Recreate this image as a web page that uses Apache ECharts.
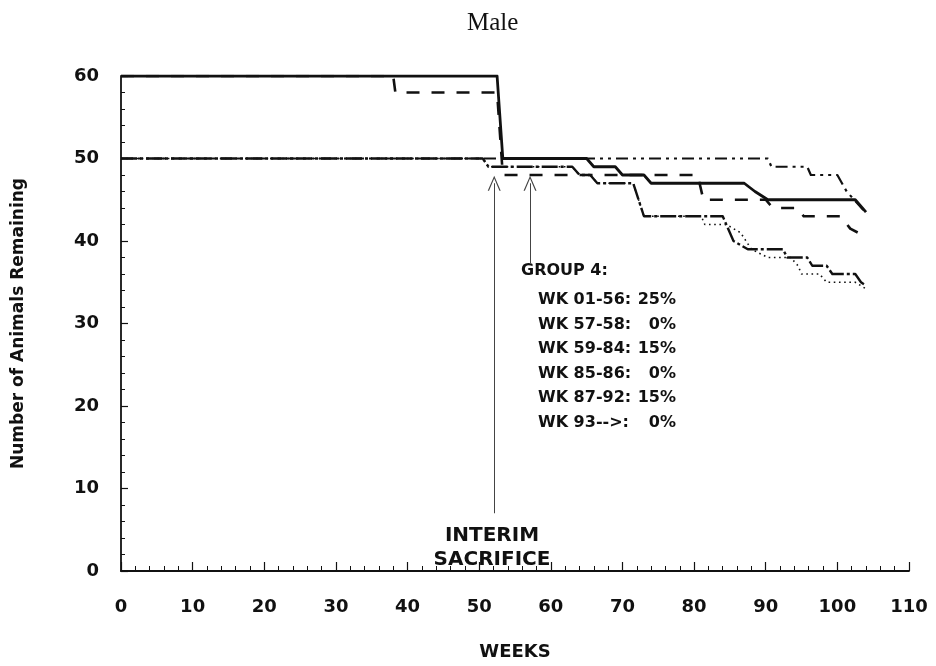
<!DOCTYPE html>
<html>
<head>
<meta charset="utf-8">
<script src="https://cdn.jsdelivr.net/npm/echarts@6/dist/echarts.min.js"></script>
<style>
html,body{margin:0;padding:0;background:#fff;}
#chart{width:936px;height:666px;}
</style>
</head>
<body>
<div id="chart"></div>
<script>
// ---- data: [week, animals remaining] ----
const groupSolid = [[0,60],[52.5,60],[53.3,50],[65,50],[66,49],[69,49],[70,48],[73,48],[74,47],[87,47],[88.5,46],[90.3,45],[102.5,45],[104,43.5]];
const groupDashed = [[0,60],[38,60],[38.3,58],[52.5,58],[53.3,48],[80.5,48],[81.3,45],[90,45],[91,44],[94.5,44],[95.3,43],[100.5,43],[101.8,41.5],[104,40.5]];
const groupDashDotDot = [[0,50],[90.3,50],[90.8,49],[95.8,49],[96.3,48],[100,48],[101.3,46],[104.1,43.3]];
const groupDashDot = [[0,50],[50.5,50],[51.3,49],[63,49],[64,48],[65.5,48],[66.5,47],[71.5,47],[73,43],[84,43],[85.5,40],[87.5,39],[92.4,39],[93,38],[95.8,38],[96.5,37],[98.5,37],[99.3,36],[102.5,36],[103.3,35],[104,34.6]];
const groupDotted = [[0,50],[50.5,50],[51.3,49],[63,49],[64,48],[65.5,48],[66.5,47],[71.5,47],[73,43],[81,43],[81.5,42],[84.5,42],[86.5,41],[88,39],[90.3,38],[93.5,38],[94.5,37],[95,36],[97.5,36],[98.5,35],[102.5,35],[104,34.2]];

const xTickValues = [0,10,20,30,40,50,60,70,80,90,100,110];
const yTickValues = [0,10,20,30,40,50,60];

const interimArrowWeek = 52.1;
const group4ArrowWeek = 57.1;

const titleText = 'Male';
const annotationTitle = 'GROUP 4:';
const scheduleLabels = ['WK 01-56:', 'WK 57-58:', 'WK 59-84:', 'WK 85-86:', 'WK 87-92:', 'WK 93-->:'];
const schedulePercents = ['25%', '0%', '15%', '0%', '15%', '0%'];
const sacrificeLines = ['INTERIM', 'SACRIFICE'];

// ---- chart ----
const chart = echarts.init(document.getElementById('chart'), null, {renderer: 'canvas'});
const SANS = 'DejaVu Sans';
const INK = '#111';

function lineSeries(name, data, type, width, z) {
  return {
    name, type: 'line', data, symbol: 'none', silent: true, z,
    lineStyle: {color: INK, width, type, cap: 'butt', join: 'round'},
    animation: false
  };
}

const chevron = 'path://M0,14 L7,0 L14,14 L12.6,14 L7,2.6 L1.4,14 Z';

const series = [
  lineSeries('dotted', groupDotted, [1.6, 3.6], 1.6, 2),
  lineSeries('dashdot', groupDashDot, [16, 3, 3, 3], 2.4, 3),
  lineSeries('dashdotdot', groupDashDotDot, [12, 5, 3, 5, 3, 5], 2.2, 4),
  lineSeries('dashed', groupDashed, [13, 12], 2.6, 5),
  lineSeries('solid', groupSolid, 'solid', 2.8, 6)
];
series[4].markLine = {
  silent: true,
  symbol: ['none', chevron],
  symbolSize: [13, 15],
  label: {show: false},
  lineStyle: {color: '#444', width: 1, type: 'solid'},
  emphasis: {disabled: true},
  animation: false,
  data: [
    [{coord: [interimArrowWeek, 7.0]}, {coord: [interimArrowWeek, 47.0]}],
    [{coord: [group4ArrowWeek, 37.3]}, {coord: [group4ArrowWeek, 47.0]}]
  ]
};

const graphics = [];
sacrificeLines.forEach((t, i) => {
  graphics.push({type: 'text', x: 492, y: 536 + i * 24,
    style: {text: t, fill: INK, font: 'bold 20px "' + SANS + '"', textAlign: 'center', textVerticalAlign: 'middle'}});
});
graphics.push({type: 'text', x: 521, y: 271,
  style: {text: annotationTitle, fill: INK, font: 'bold 16px "' + SANS + '"', textAlign: 'left', textVerticalAlign: 'middle'}});
scheduleLabels.forEach((t, i) => {
  const y = 300 + i * 24.5;
  graphics.push({type: 'text', x: 538, y,
    style: {text: t, fill: INK, font: 'bold 16px "' + SANS + '"', textAlign: 'left', textVerticalAlign: 'middle'}});
  graphics.push({type: 'text', x: 676, y,
    style: {text: schedulePercents[i], fill: INK, font: 'bold 16px "' + SANS + '"', textAlign: 'right', textVerticalAlign: 'middle'}});
});

chart.setOption({
  backgroundColor: '#fff',
  animation: false,
  title: {
    text: titleText, left: 462, top: 6,
    textStyle: {fontFamily: 'Liberation Serif', fontWeight: 'normal', fontSize: 25, color: INK}
  },
  grid: {left: 121, right: 27, top: 76, bottom: 95, containLabel: false, outerBoundsMode: 'none'},
  xAxis: {
    type: 'value', min: 0, max: 110, interval: 10,
    name: 'WEEKS', nameLocation: 'middle', nameGap: 72,
    nameTextStyle: {fontFamily: SANS, fontWeight: 'bold', fontSize: 18, color: INK},
    axisLine: {show: true, lineStyle: {color: INK, width: 1.8}},
    axisTick: {show: true, inside: true, length: 9, lineStyle: {color: INK, width: 1.2}},
    minorTick: {show: true, splitNumber: 5, length: 5, lineStyle: {color: INK, width: 1}},
    splitLine: {show: false},
    axisLabel: {fontFamily: SANS, fontWeight: 'bold', fontSize: 18, color: INK, margin: 27,
      formatter: v => xTickValues.includes(v) ? String(v) : ''}
  },
  yAxis: {
    type: 'value', min: 0, max: 60, interval: 10,
    name: 'Number of Animals Remaining', nameLocation: 'middle', nameGap: 94, nameRotate: 90,
    nameTextStyle: {fontFamily: SANS, fontWeight: 'bold', fontSize: 17, color: INK},
    axisLine: {show: true, lineStyle: {color: INK, width: 1.8}},
    axisTick: {show: true, inside: true, length: 7, lineStyle: {color: INK, width: 1.2}},
    minorTick: {show: true, splitNumber: 5, length: 4, lineStyle: {color: INK, width: 1}},
    splitLine: {show: false},
    axisLabel: {fontFamily: SANS, fontWeight: 'bold', fontSize: 18, color: INK, margin: 22,
      formatter: v => yTickValues.includes(v) ? String(v) : ''}
  },
  series,
  graphic: graphics
});
</script>
</body>
</html>
